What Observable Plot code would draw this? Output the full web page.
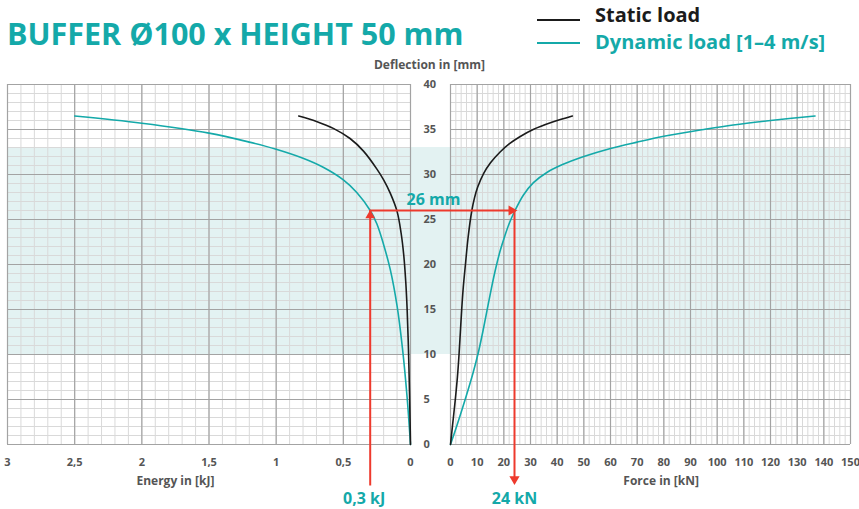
<!DOCTYPE html>
<html><head><meta charset="utf-8">
<script src="https://cdn.jsdelivr.net/npm/d3@7"></script>
<script src="https://cdn.jsdelivr.net/npm/@observablehq/plot@0.6"></script>
<style>
body{margin:0;background:#fff;font-family:"Open Sans",sans-serif;}
#wrap{position:relative;width:859px;height:509px;overflow:hidden;}
#wrap svg{position:absolute;left:0;top:0;}
.t{position:absolute;font-weight:700;line-height:1;white-space:nowrap;}
.ln{position:absolute;height:0;border-top:2px solid;}
</style></head><body><div id="wrap"></div>
<script>
// ---- data ----
const energyTicks = [3, 2.5, 2, 1.5, 1, 0.5, 0];
const forceTicks = [0,10,20,30,40,50,60,70,80,90,100,110,120,130,140,150];
const deflectionTicks = [0,5,10,15,20,25,30,35,40];

const staticEnergyKJ   = [0, 0.003, 0.007, 0.015, 0.025, 0.035, 0.05, 0.07, 0.1, 0.15, 0.2, 0.25, 0.35, 0.45, 0.571, 0.7, 0.832];
const staticEnergyDefl = [0, 2.5, 5.5, 10.5, 15.0, 18.0, 21.0, 23.5, 25.9, 27.9, 29.4, 30.6, 32.6, 34.0, 35.1, 35.9, 36.5];

const dynamicEnergyKJ   = [0, 0.025, 0.06, 0.1, 0.15, 0.2, 0.25, 0.3, 0.4, 0.5, 0.65, 0.8, 1.0, 1.2, 1.5, 2.0, 2.5];
const dynamicEnergyDefl = [0, 5.2, 10.7, 15.4, 19.4, 22.2, 24.5, 26.0, 28.0, 29.4, 30.8, 31.8, 32.8, 33.6, 34.6, 35.7, 36.5];

const staticForceKN   = [0, 0.9, 1.8, 2.6, 3.2, 3.7, 4.2, 4.8, 5.6, 6.6, 8.0, 9.0, 10.2, 12.4, 15.0, 18.6, 22.0, 26.0, 31.0, 38.0, 45.7];
const staticForceDefl = [0, 2.5, 5.0, 7.5, 10.0, 12.5, 15.0, 17.5, 20.0, 23.0, 26.0, 27.4, 28.6, 30.1, 31.3, 32.5, 33.4, 34.2, 35.0, 35.8, 36.5];

const dynamicForceKN   = [0, 2.5, 5.5, 8.5, 10.5, 12.1, 13.7, 15.3, 16.9, 18.6, 20.4, 22.2, 24.2, 27.3, 31.1, 36, 42, 50, 60, 70, 81, 95, 106, 120, 136.7];
const dynamicForceDefl = [0, 2.2, 5.0, 8.0, 10.3, 12.5, 14.9, 17.3, 19.5, 21.5, 23.2, 24.7, 26.0, 27.7, 29.1, 30.2, 31.1, 32.0, 32.9, 33.6, 34.3, 35.0, 35.5, 36.0, 36.5];

const bandDefl = [10, 33];
const markerDefl = 26, markerEnergy = 0.3, markerForce = 24;
const titleText = "BUFFER Ø100 x HEIGHT 50 mm";
const legendLabels = ["Static load", "Dynamic load [1–4 m/s]"];

// ---- styles ----
const TEAL = "#14a9a9", RED = "#ee3a2d", BLACK = "#1b1b1b", GRAY = "#555";
const MINOR = "#d9d9d9", MAJOR = "#a3a3a3", BAND = "#e3f2f2";
const FONT = "'Open Sans', sans-serif";

const W = 859, H = 509;
const yOpts = {domain: [0, 40], range: [444, 84]};
const xLeftOpts = {domain: [3, 0], range: [7, 410]};
const xRightOpts = {domain: [0, 150], range: [450, 850]};
const xl = Plot.scale({x: xLeftOpts});
const xr = Plot.scale({x: xRightOpts});

const zip = (ys, xs) => ys.map((d, i) => ({d, v: xs[i]}));
const fmtE = v => String(v).replace(".", ",");
const common = {width: W, height: H, marginTop: 84, marginBottom: 65,
  style: {background: "transparent", fontFamily: FONT, overflow: "visible"}, y: {...yOpts, axis: null}};

const minorE = d3.range(0, 31).map(i => i / 10);
const minorF = d3.range(0, 76).map(i => i * 2);
const minorD = d3.range(0, 41);
const curve = "catmull-rom";

const left = Plot.plot({
  ...common, marginLeft: 7, marginRight: W - 410,
  x: {...xLeftOpts, axis: null},
  marks: [
    Plot.rect([bandDefl], {x1: 3, x2: xl.invert(xr.apply(150)), y1: d => d[0], y2: d => d[1], fill: BAND}),
    Plot.ruleX(minorE, {y1: 0, y2: 40, stroke: MINOR}),
    Plot.ruleY(minorD, {x1: 3, x2: 0, stroke: MINOR}),
    Plot.ruleX(energyTicks, {y1: 0, y2: 40, stroke: MAJOR, strokeWidth: 1.2}),
    Plot.ruleY(deflectionTicks, {x1: 3, x2: 0, stroke: MAJOR, strokeWidth: 1.2}),
    Plot.line(zip(dynamicEnergyDefl, dynamicEnergyKJ), {x: "v", y: "d", stroke: TEAL, strokeWidth: 1.6, curve}),
    Plot.line(zip(staticEnergyDefl, staticEnergyKJ), {x: "v", y: "d", stroke: BLACK, strokeWidth: 1.6, curve}),
    Plot.text(energyTicks, {x: d => d, y: 0, dy: 18, text: fmtE, fill: GRAY, fontWeight: "bold", fontSize: 11}),
    Plot.text(["Energy in [kJ]"], {x: 1.75, y: 0, dy: 37, text: d => d, fill: GRAY, fontWeight: "bold", fontSize: 12}),
    Plot.ruleX([markerEnergy], {y1: -4.6, y2: markerDefl, stroke: RED, strokeWidth: 2}),
    Plot.dot([markerEnergy], {x: d => d, y: markerDefl, dy: 5, symbol: "triangle", r: 3.6, fill: RED, stroke: null}),
    Plot.text([markerEnergy], {x: d => d, y: 0, dy: 54, dx: -6, text: d => fmtE(d) + " kJ", fill: TEAL, fontWeight: "bold", fontSize: 16})
  ]
});

const right = Plot.plot({
  ...common, marginLeft: 450, marginRight: W - 850,
  x: {...xRightOpts, axis: null},
  marks: [
    Plot.ruleX(minorF, {y1: 0, y2: 40, stroke: MINOR}),
    Plot.ruleY(minorD, {x1: 0, x2: 150, stroke: MINOR}),
    Plot.ruleX(forceTicks, {y1: 0, y2: 40, stroke: MAJOR, strokeWidth: 1.2}),
    Plot.ruleY(deflectionTicks, {x1: 0, x2: 150, stroke: MAJOR, strokeWidth: 1.2}),
    Plot.line(zip(dynamicForceDefl, dynamicForceKN), {x: "v", y: "d", stroke: TEAL, strokeWidth: 1.6, curve}),
    Plot.line(zip(staticForceDefl, staticForceKN), {x: "v", y: "d", stroke: BLACK, strokeWidth: 1.6, curve}),
    Plot.text(forceTicks, {x: d => d, y: 0, dy: 18, text: d => String(d), fill: GRAY, fontWeight: "bold", fontSize: 11}),
    Plot.text(["Force in [kN]"], {x: 79, y: 0, dy: 37, text: d => d, fill: GRAY, fontWeight: "bold", fontSize: 12}),
    Plot.text(deflectionTicks, {x: 0, y: d => d, dx: -27, textAnchor: "start", text: d => String(d), fill: GRAY, fontWeight: "bold", fontSize: 11}),
    Plot.text(["Deflection in [mm]"], {x: 0, y: 40, dx: -21, dy: -19, text: d => d, fill: GRAY, fontWeight: "bold", fontSize: 12}),
    Plot.ruleY([markerDefl], {x1: xr.invert(xl.apply(markerEnergy)), x2: markerForce, stroke: RED, strokeWidth: 2}),
    Plot.ruleX([markerForce], {y1: markerDefl, y2: -4.0, stroke: RED, strokeWidth: 2}),
    Plot.dot([markerForce], {x: d => d, y: markerDefl, dx: -3, symbol: "triangle", rotate: 90, r: 3.8, fill: RED, stroke: null}),
    Plot.dot([markerForce], {x: d => d, y: -4.4, dy: -5, symbol: "triangle", rotate: 180, r: 3.8, fill: RED, stroke: null}),
    Plot.text([markerForce], {x: d => d, y: 0, dy: 54, text: d => d + " kN", fill: TEAL, fontWeight: "bold", fontSize: 16}),
    Plot.text([markerDefl], {x: 0, y: d => d, dx: -17, dy: -11, text: d => d + " mm", fill: TEAL, fontWeight: "bold", fontSize: 16})
  ]
});

const wrap = document.getElementById("wrap");
wrap.appendChild(left);
wrap.appendChild(right);

function addText(txt, x, top, size, color) {
  const el = document.createElement("div");
  el.className = "t"; el.textContent = txt;
  Object.assign(el.style, {left: x + "px", top: top + "px", fontSize: size + "px", color});
  wrap.appendChild(el);
}
function addLine(x, y, w, color) {
  const el = document.createElement("div");
  el.className = "ln";
  Object.assign(el.style, {left: x + "px", top: y + "px", width: w + "px", borderColor: color});
  wrap.appendChild(el);
}
addText(titleText, 7, 18, 30.5, TEAL);
addLine(537, 19, 43, BLACK);
addLine(537, 42, 43, TEAL);
addText(legendLabels[0], 595, 5, 20, BLACK);
addText(legendLabels[1], 595, 32, 20, TEAL);
</script></body></html>
